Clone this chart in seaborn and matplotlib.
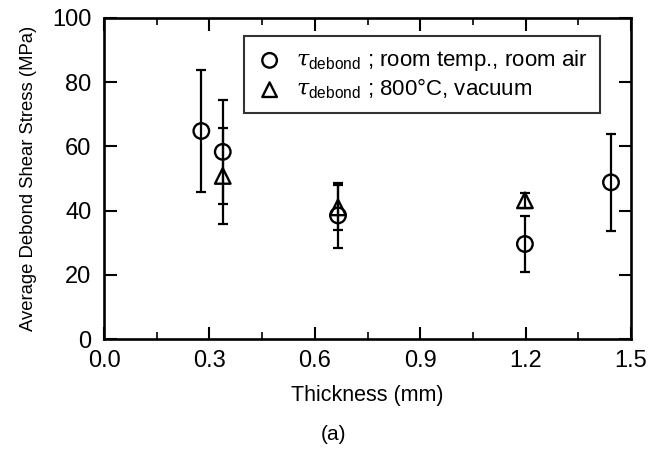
import matplotlib
matplotlib.use("Agg")
import matplotlib.pyplot as plt
import seaborn as sns
import pandas as pd
import numpy as np

# Data
rt_thickness = [0.277, 0.338, 0.666, 1.198, 1.443]
rt_stress = [64.8, 58.3, 38.5, 29.6, 48.8]
rt_err = [19.0, 16.3, 10.0, 8.6, 15.0]

hv_thickness = [0.338, 0.666, 1.198]
hv_stress = [50.8, 41.0, 43.2]
hv_err = [15.0, 7.0, 2.4]

legend_rt = r"$\tau_{\mathrm{debond}}$ ; room temp., room air"
legend_hv = r"$\tau_{\mathrm{debond}}$ ; 800°C, vacuum"

x_ticks = [0.0, 0.3, 0.6, 0.9, 1.2, 1.5]
x_tick_labels = ["0.0", "0.3", "0.6", "0.9", "1.2", "1.5"]
y_ticks = [0, 20, 40, 60, 80, 100]

sns.set_style("ticks")
plt.rcParams['font.family'] = ['Liberation Sans', 'DejaVu Sans']
plt.rcParams['mathtext.fontset'] = 'custom'
plt.rcParams['mathtext.rm'] = 'Liberation Sans'
plt.rcParams['mathtext.it'] = 'DejaVu Serif:italic'
for k in ['text.color', 'axes.labelcolor', 'xtick.color', 'ytick.color', 'axes.edgecolor']:
    plt.rcParams[k] = 'black'

fig = plt.figure(figsize=(6.65, 4.51), dpi=100)
ax = fig.add_axes([0.1564, 0.2483, 0.7925, 0.7118])

df_rt = pd.DataFrame({"x": rt_thickness, "y": rt_stress})
df_hv = pd.DataFrame({"x": hv_thickness, "y": hv_stress})

ax.errorbar(rt_thickness, rt_stress, yerr=rt_err, fmt='none', ecolor='black',
            elinewidth=1.6, capsize=3.8, capthick=1.6, zorder=2)
ax.errorbar(hv_thickness, hv_stress, yerr=hv_err, fmt='none', ecolor='black',
            elinewidth=1.6, capsize=3.8, capthick=1.6, zorder=2)

sns.scatterplot(data=df_rt, x="x", y="y", ax=ax, marker='o', s=125,
                facecolor='none', edgecolor='black', linewidth=1.7, zorder=3,
                label=legend_rt)
sns.scatterplot(data=df_hv, x="x", y="y", ax=ax, marker='^', s=125,
                facecolor='none', edgecolor='black', linewidth=1.7, zorder=3,
                label=legend_hv)

ax.set_xlim(0, 1.5)
ax.set_ylim(0, 100)
ax.set_xticks(x_ticks)
ax.set_xticklabels(x_tick_labels)
ax.set_xticks(np.arange(0.15, 1.5, 0.3), minor=True)
ax.set_yticks(y_ticks)

for s in ax.spines.values():
    s.set_visible(True)
    s.set_linewidth(1.9)
    s.set_color('black')

ax.tick_params(axis='both', which='major', direction='in', length=9, width=1.5,
               top=True, right=True, labelsize=17, colors='black')
ax.tick_params(axis='y', which='major', pad=9)
ax.tick_params(axis='x', which='major', pad=8)
ax.tick_params(axis='x', which='minor', direction='in', length=5, width=1.2,
               top=True, bottom=True)

ax.set_xlabel("Thickness (mm)", fontsize=15.5)
ax.set_ylabel("Average Debond Shear Stress (MPa)", fontsize=13.3)
ax.xaxis.set_label_coords(0.5, -0.143)
ax.yaxis.set_label_coords(-0.127, 0.5)

leg = ax.legend(loc='upper left', bbox_to_anchor=(0.2657, 0.944), fontsize=16,
                frameon=True, fancybox=False, edgecolor='black',
                handletextpad=0.6, borderpad=0.55, labelspacing=0.15,
                handlelength=1.2, borderaxespad=0)
leg.get_frame().set_linewidth(1.5)
for h in leg.legend_handles:
    h.set_sizes([110])

fig.text(0.502, 0.0355, "(a)", ha='center', va='center', fontsize=15)

fig.savefig("out.png", dpi=100, facecolor='white')
